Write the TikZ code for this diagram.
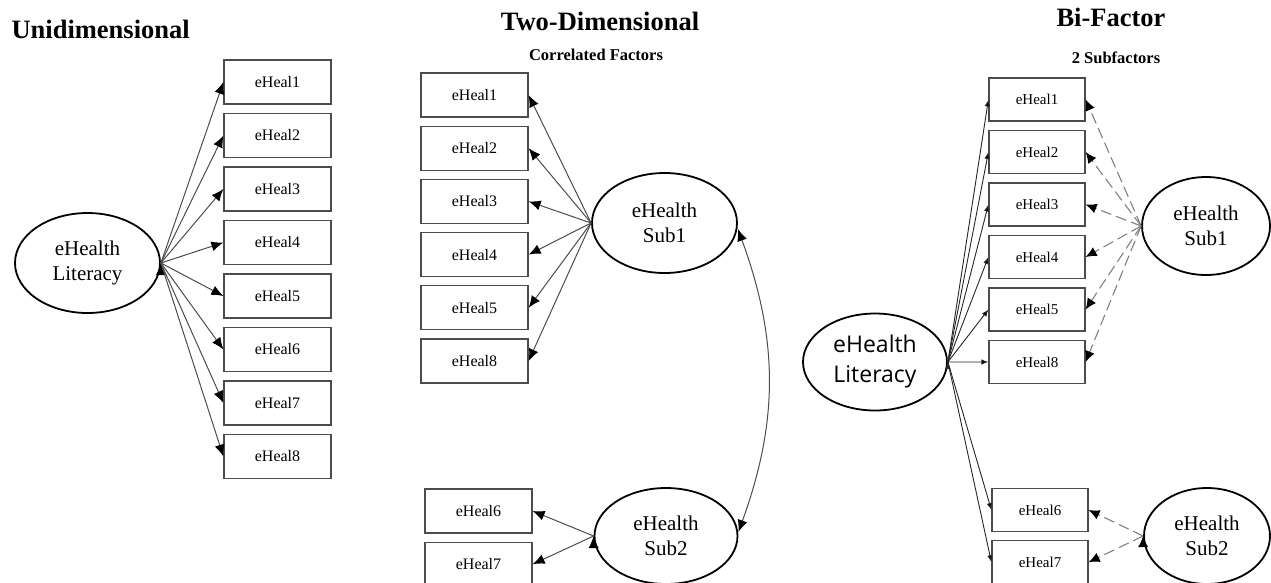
\documentclass[tikz,border=0pt]{standalone}
\usepackage{fontspec}
\setmainfont{Liberation Serif}
\newfontfamily\openfont{Open Sans}
\usetikzlibrary{positioning,shapes.geometric,arrows.meta}
\tikzset{
  item/.style={draw=black!70, line width=1.2pt, minimum width=107pt, minimum height=44pt,
    inner sep=0pt, font=\fontsize{16}{18}\selectfont},
  sitem/.style={item, minimum width=96pt, minimum height=43pt, font=\fontsize{15}{18}\selectfont},
  latent/.style={ellipse, draw, line width=1.8pt, minimum width=145pt, minimum height=100pt,
    inner sep=0pt, align=center, font=\fontsize{21}{25}\selectfont},
  load/.style={-{Latex[length=12pt,width=10pt,black]}, draw=black!70, line width=1pt},
  gload/.style={-{Latex[length=7pt,width=5.5pt]}, draw=black!85, line width=0.9pt},
  sload/.style={-{Latex[length=11pt,width=10pt,black]}, draw=black!50, line width=1.1pt,
    dash pattern=on 11pt off 5pt},
  heading/.style={font=\fontsize{26.5}{30}\selectfont\bfseries, anchor=base},
  subhead/.style={font=\fontsize{16.5}{19}\selectfont\bfseries, anchor=base}}

\begin{document}
\begin{tikzpicture}[x=1pt, y=-1pt, node distance=8.3pt]
  \useasboundingbox (0,0) rectangle (1271,582);

  % unidimensional
  \node[heading, anchor=base west] (h_u) at (8,38) {Unidimensional};
  \node[latent] (f_u) at (87.5,263) {eHealth\\Literacy};
  \node[item] (u_1) at (277.5,82) {eHeal1};
  \node[item] (u_2) [below=of u_1] {eHeal2};
  \node[item] (u_3) [below=of u_2] {eHeal3};
  \node[item] (u_4) [below=of u_3] {eHeal4};
  \node[item] (u_5) [below=of u_4] {eHeal5};
  \node[item] (u_6) [below=of u_5] {eHeal6};
  \node[item] (u_7) [below=of u_6] {eHeal7};
  \node[item] (u_8) [below=of u_7] {eHeal8};
  \path[load]
    (f_u.east) edge (u_1.west)
    (f_u.east) edge (u_2.west)
    (f_u.east) edge (u_3.west)
    (f_u.east) edge (u_4.west)
    (f_u.east) edge (u_5.west)
    (f_u.east) edge (u_6.west)
    (f_u.east) edge (u_7.west)
    (f_u.east) edge (u_8.west);

  % two-dimensional
  \node[heading] (h_t) at (600,30) {Two-Dimensional};
  \node[subhead] (s_t) at (596,60) {Correlated Factors};
  \node[item] (t_1) at (474.5,95) {eHeal1};
  \node[item] (t_2) [below=8pt of t_1] {eHeal2};
  \node[item] (t_3) [below=8pt of t_2] {eHeal3};
  \node[item] (t_4) [below=8pt of t_3] {eHeal4};
  \node[item] (t_5) [below=8pt of t_4] {eHeal5};
  \node[item] (t_8) [below=8pt of t_5] {eHeal8};
  \node[item] (t_6) at (478.5,511) {eHeal6};
  \node[item] (t_7) [below=8pt of t_6] {eHeal7};
  \node[latent] (f_s1) at (664.5,223) {eHealth\\Sub1};
  \node[latent, minimum width=143pt, minimum height=96pt] (f_s2) at (666,536) {eHealth\\Sub2};
  \path[load]
    (f_s1.west) edge (t_1.east)
    (f_s1.west) edge (t_2.east)
    (f_s1.west) edge (t_3.east)
    (f_s1.west) edge (t_4.east)
    (f_s1.west) edge (t_5.east)
    (f_s1.west) edge (t_8.east)
    (f_s2.west) edge (t_6.east)
    (f_s2.west) edge (t_7.east);
  \draw[load, {Latex[length=12pt,width=10pt,black]}-{Latex[length=12pt,width=10pt,black]}]
    ([yshift=-6pt]f_s1.east) to[bend left=20] ([yshift=4pt]f_s2.east);

  % bi-factor
  \node[heading] (h_b) at (1111,26) {Bi-Factor};
  \node[subhead] (s_b) at (1116,63) {2 Subfactors};
  \node[sitem] (b_1) at (1037,99.5) {eHeal1};
  \node[sitem] (b_2) [below=of b_1] {eHeal2};
  \node[sitem] (b_3) [below=of b_2] {eHeal3};
  \node[sitem] (b_4) [below=of b_3] {eHeal4};
  \node[sitem] (b_5) [below=of b_4] {eHeal5};
  \node[sitem] (b_8) [below=of b_5] {eHeal8};
  \node[sitem] (b_6) at (1040,510) {eHeal6};
  \node[sitem] (b_7) [below=8pt of b_6] {eHeal7};
  \node[latent, minimum width=144pt, minimum height=97pt, font=\openfont\fontsize{23}{30}\selectfont]
    (f_g) at (875,362) {eHealth\\Literacy};
  \node[latent, minimum width=128pt, minimum height=98pt] (f_b1) at (1206,226) {eHealth\\Sub1};
  \node[latent, minimum width=126pt, minimum height=96pt] (f_b2) at (1207,536) {eHealth\\Sub2};
  \path[gload]
    (f_g.east) edge (b_1.west)
    (f_g.east) edge (b_2.west)
    (f_g.east) edge (b_3.west)
    (f_g.east) edge (b_4.west)
    (f_g.east) edge (b_5.west)
    (f_g.east) edge (b_8.west)
    (f_g.east) edge (b_6.west)
    (f_g.east) edge (b_7.west);
  \path[sload]
    (f_b1.west) edge (b_1.east)
    (f_b1.west) edge (b_2.east)
    (f_b1.west) edge (b_3.east)
    (f_b1.west) edge (b_4.east)
    (f_b1.west) edge (b_5.east)
    (f_b1.west) edge (b_8.east)
    (f_b2.west) edge (b_6.east)
    (f_b2.west) edge (b_7.east);
\end{tikzpicture}
\end{document}
